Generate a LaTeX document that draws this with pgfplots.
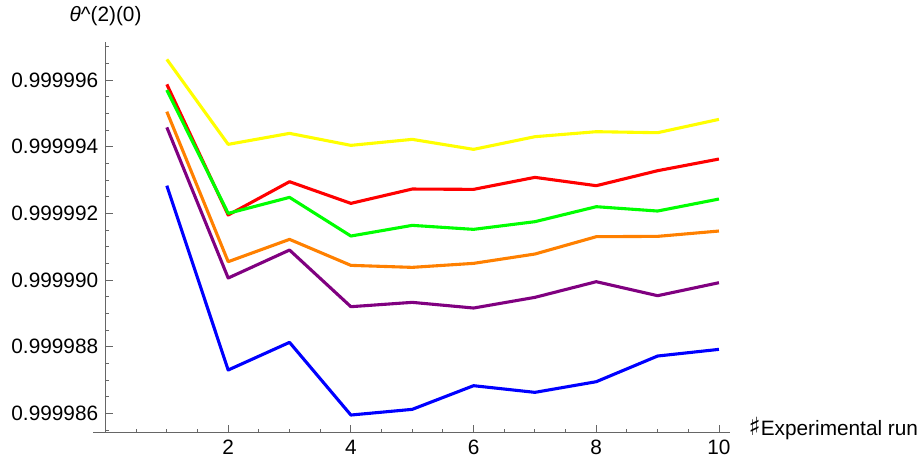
\documentclass[border=0pt]{standalone}
\usepackage{fontspec}
\setmainfont{Liberation Sans}
\newfontfamily\dejavu{DejaVu Sans}
\usepackage{pgfplots}
\pgfplotsset{compat=1.18}
\definecolor{myyellow}{rgb}{1,1,0}
\definecolor{myred}{rgb}{1,0,0}
\definecolor{mygreen}{rgb}{0,1,0}
\definecolor{myorange}{rgb}{1,0.5,0}
\definecolor{mypurple}{rgb}{0.5,0,0.5}
\definecolor{myblue}{rgb}{0,0,1}
\begin{document}
\fontsize{10.4}{12.5}\selectfont
% y values are (theta - 0.999986) * 10^6
\begin{tikzpicture}
\begin{axis}[name=ax, at={(0,0)}, anchor=south west,
  scale only axis, width=312.25pt, height=195.5pt,
  xmin=0, xmax=10.18, ymin=-0.58, ymax=11.15,
  axis lines=left, axis line style={-, black!60, line width=0.45pt},
  tick align=inside, tick style={black!60, line width=0.45pt},
  major tick length=3.7pt, minor tick length=2pt,
  xtick={2,4,6,8,10}, minor xtick={0.5,1,...,10},
  ytick={0,2,4,6,8,10},
  yticklabels={0.999986,0.999988,0.999990,0.999992,0.999994,0.999996},
  minor ytick={-0.5,0,...,11},
  /pgf/number format/assume math mode=true,
  clip=false,
  xlabel={{\dejavu\fontsize{12.5}{13}\selectfont ♯}Experimental run},
  every axis x label/.style={at={(axis description cs:1,0)}, anchor=base west, xshift=5.7pt, yshift=-1.65pt},
  ylabel={\textit{θ}\textasciicircum(2)(0)},
  every axis y label/.style={at={(axis description cs:0,1)}, anchor=center, yshift=12.6pt},
  every axis plot/.append style={line width=1.55pt, line join=round, mark=none},
]
\addplot[myblue] coordinates {(1,6.83) (2,1.30) (3,2.13) (4,-0.05) (5,0.12) (6,0.83) (7,0.63) (8,0.95) (9,1.72) (10,1.92)};
\addplot[mypurple] coordinates {(1,8.58) (2,4.06) (3,4.90) (4,3.20) (5,3.33) (6,3.16) (7,3.48) (8,3.95) (9,3.53) (10,3.92)};
\addplot[myorange] coordinates {(1,9.05) (2,4.55) (3,5.22) (4,4.44) (5,4.38) (6,4.50) (7,4.78) (8,5.30) (9,5.31) (10,5.47)};
\addplot[myred] coordinates {(1,9.87) (2,5.95) (3,6.95) (4,6.30) (5,6.73) (6,6.72) (7,7.08) (8,6.83) (9,7.28) (10,7.63)};
\addplot[mygreen] coordinates {(1,9.70) (2,6.00) (3,6.48) (4,5.32) (5,5.64) (6,5.52) (7,5.75) (8,6.20) (9,6.07) (10,6.43)};
\addplot[myyellow] coordinates {(1,10.62) (2,8.07) (3,8.40) (4,8.04) (5,8.22) (6,7.92) (7,8.30) (8,8.45) (9,8.42) (10,8.82)};
\draw[black!60, line width=0.45pt] (axis cs:-0.2,-0.58) -- (axis cs:0,-0.58);
\end{axis}
\pgfresetboundingbox
\path (ax.south west) ++(-52.75pt,-16.15pt) rectangle ++(461pt,232.5pt);
\end{tikzpicture}
\end{document}
